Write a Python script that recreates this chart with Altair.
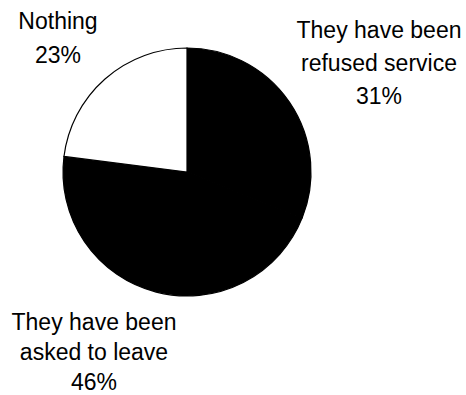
import altair as alt
import pandas as pd

categories = ["They have been refused service", "They have been asked to leave", "Nothing"]
values = [31, 46, 23]
colors = ["#000000", "#000000", "#ffffff"]
label_lines = [
    ["They have been", "refused service", "31%"],
    ["They have been", "asked to leave", "46%"],
    ["Nothing", "23%"],
]

df = pd.DataFrame({
    "category": categories,
    "value": values,
    "order": list(range(len(categories))),
})

pie = alt.Chart(df).mark_arc(
    outerRadius=124, stroke="#000000", strokeWidth=1.2
).encode(
    theta=alt.Theta("value:Q", stack=True),
    order=alt.Order("order:Q"),
    color=alt.Color("category:N", scale=alt.Scale(domain=categories, range=colors), legend=None),
    x=alt.value(187),
    y=alt.value(172),
)

def label(lines, x, y, lh):
    return alt.Chart(pd.DataFrame({"t": [lines]})).mark_text(
        font="Liberation Sans", fontSize=23, align="center", baseline="alphabetic",
        lineHeight=lh, color="#000000",
    ).encode(text="t", x=alt.value(x), y=alt.value(y))

chart = alt.layer(
    pie,
    label(label_lines[0], 379, 38, 33),
    label(label_lines[1], 94, 330, 30),
    label(label_lines[2], 58, 29, 34),
).properties(
    width=466, height=395, autosize=alt.AutoSizeParams(type="none"), padding=0
).configure_view(stroke=None)

chart.save("out.html", embed_options={"renderer": "svg", "actions": False})
